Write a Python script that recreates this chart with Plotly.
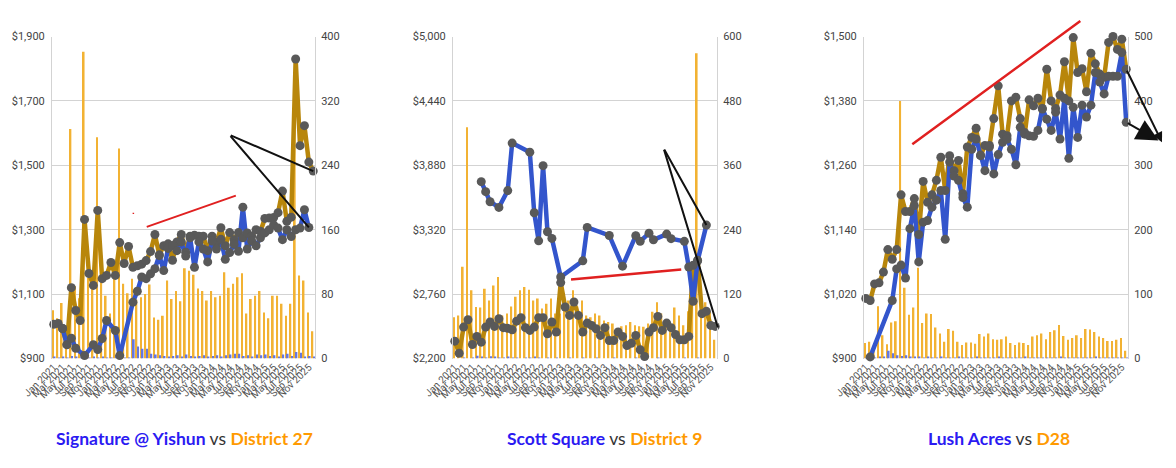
import plotly.graph_objects as go

# ---------------- data ----------------
months_idx = list(range(60))  # Jan 2021 .. Dec 2025
tick_idx = list(range(0, 60, 2))
tick_labels = ["Jan 2021", "Mar 2021", "May 2021", "Jul 2021", "Sep 2021", "Nov 2021",
               "Jan 2022", "Mar 2022", "May 2022", "Jul 2022", "Sep 2022", "Nov 2022",
               "Jan 2023", "Mar 2023", "May 2023", "Jul 2023", "Sep 2023", "Nov 2023",
               "Jan 2024", "Mar 2024", "May 2024", "Jul 2024", "Sep 2024", "Nov 2024",
               "Jan 2025", "Mar 2025", "May 2025", "Jul 2025", "Sep 2025", "Nov 2025"]

# Panel 1: Signature @ Yishun vs District 27
p1_district_price = [1006, 1009, 993, 943, 1120, 1049, 1018, 1332, 1164, 1127,
                     1360, 1148, 1158, 1198, 1158, 1260, 1195, 1248, 1183, 1188,
                     1193, 1204, 1232, 1285, 1222, 1250, 1256, 1205, 1262, 1285,
                     1230, 1280, 1283, 1280, 1280, 1235, 1280, 1260, 1306, 1250,
                     1291, 1269, 1291, 1275, 1290, 1280, 1300, 1295, 1335, 1336,
                     1338, 1353, 1420, 1326, 1339, 1830, 1561, 1623, 1510, 1482]
p1_project_price = [None, None, 993, 943, 963, 932, None, 909, None, 943,
                    928, 962, 1018, None, 987, 909, None, None, 1075, 1109,
                    1153, 1148, 1163, 1179, 1220, 1173, 1242, 1251, 1235, 1262,
                    1218, 1275, 1183, 1262, 1240, 1200, 1265, 1240, 1270, 1208,
                    1229, 1255, 1233, 1370, 1240, 1265, 1250, 1275, 1290, 1300,
                    1315, 1305, 1269, 1300, 1279, 1300, 1305, 1362, 1307, None]
p1_district_vol = [60, 50, 69, 35, 285, 90, 75, 381, 100, 105,
                   275, 97, 78, 56, 105, 261, 93, 81, 99, 73,
                   76, 80, 92, 51, 48, 53, 97, 74, 84, 71,
                   112, 109, 104, 87, 84, 72, 84, 76, 78, 107,
                   88, 93, 101, 106, 56, 74, 78, 84, 57, 50,
                   78, 78, 68, 53, 68, 330, 103, 97, 57, 34]
p1_project_vol = [2, 1, 2, 1, 3, 2, 1, 2, 1, 2,
                  1, 2, 1, 1, 4, 2, 1, 1, 24, 15,
                  12, 12, 6, 5, 4, 3, 2, 3, 4, 2,
                  5, 3, 2, 3, 4, 2, 3, 4, 2, 4,
                  5, 6, 6, 3, 4, 2, 5, 4, 5, 3,
                  4, 2, 5, 6, 3, 8, 7, 2, 3, 2]

# Panel 2: Scott Square vs District 9
p2_district_price = [2351, 2246, 2473, 2537, 2322, 2392, 2342, 2473, 2517, 2479,
                     2546, 2468, 2462, 2450, 2525, 2555, 2468, 2444, 2473, 2555,
                     2555, 2415, 2517, 2430, 2860, 2648, 2575, 2691, 2575, 2430,
                     2508, 2488, 2459, 2401, 2468, 2357, 2357, 2430, 2392, 2313,
                     2333, 2401, 2276, 2217, 2430, 2468, 2566, 2444, 2508, 2468,
                     2409, 2363, 2363, 2392, 3011, 3055, 2590, 2610, 2488, 2479]
p2_project_price = [None, None, None, None, None, None, 3738, 3651, 3563, None,
                    3514, None, 3660, 4073, None, None, None, 3994, 3467, 3223,
                    3877, 3302, 3244, None, 2909, None, None, None, None, 3049,
                    3340, None, None, None, None, 3270, None, None, 3003, None,
                    None, 3268, 3219, None, 3290, 3232, None, None, 3282, 3242,
                    None, None, 3219, 2996, 2698, 3048, None, 3360, None, None]
p2_district_vol = [77, 80, 171, 431, 127, 96, 95, 130, 108, 136,
                   152, 80, 84, 97, 115, 127, 133, 128, 108, 112,
                   93, 102, 112, 84, 84, 115, 108, 127, 97, 108,
                   80, 77, 84, 80, 71, 68, 65, 52, 60, 62,
                   68, 62, 60, 59, 65, 87, 105, 84, 65, 62,
                   95, 80, 62, 88, 112, 569, 108, 105, 87, 35]
p2_project_vol = [0, 0, 1, 0, 1, 5, 3, 1, 4, 2,
                  1, 1, 2, 1, 1, 0, 1, 1, 2, 1,
                  0, 1, 0, 1, 0, 0, 1, 0, 0, 1,
                  0, 0, 1, 0, 0, 0, 1, 0, 0, 0,
                  0, 1, 0, 0, 0, 0, 1, 0, 0, 0,
                  0, 0, 1, 0, 0, 1, 0, 0, 0, 0]

# Panel 3: Lush Acres vs D28
p3_district_price = [1012, 1008, 1039, 1041, 1061, 1103, 1085, 1103, 1205, 1174,
                     1174, 1198, 1131, 1230, 1191, 1205, 1232, 1275, 1213, 1278,
                     1250, 1269, 1207, 1294, 1312, 1329, 1278, 1297, 1294, 1347,
                     1408, 1318, 1315, 1380, 1387, 1347, 1318, 1382, 1371, 1385,
                     1365, 1439, 1380, 1366, 1391, 1453, 1380, 1498, 1433, 1440,
                     1397, 1469, 1449, 1430, 1424, 1489, 1500, 1476, 1495, 1439]
p3_project_price = [None, 903, None, None, None, None, 1008, 1067, 1074, 1050,
                    1142, 1185, 1080, 1154, 1157, 1182, 1195, 1213, 1122, 1266,
                    1240, 1232, 1200, 1182, 1290, 1309, 1279, 1250, 1297, 1244,
                    1280, 1303, 1309, 1290, 1261, 1331, 1321, 1315, 1314, 1325,
                    1366, 1346, 1325, 1359, 1309, 1385, 1273, 1368, 1312, 1372,
                    1350, 1372, 1433, 1415, 1393, 1426, 1426, 1426, 1470, 1340]
p3_district_vol = [24, 26, 15, 81, 36, 22, 56, 58, 400, 110,
                   68, 79, 141, 55, 70, 69, 48, 39, 26, 46,
                   43, 26, 21, 25, 25, 23, 38, 34, 39, 30,
                   29, 30, 34, 24, 21, 25, 24, 21, 34, 36,
                   39, 30, 41, 44, 52, 35, 29, 32, 36, 32,
                   46, 45, 41, 34, 32, 27, 27, 29, 32, 12]
p3_project_vol = [1, 2, 1, 2, 3, 12, 8, 5, 4, 5,
                  2, 3, 2, 1, 2, 1, 1, 2, 1, 1,
                  1, 2, 1, 1, 1, 2, 1, 1, 1, 1,
                  2, 1, 1, 1, 1, 1, 2, 1, 1, 1,
                  1, 1, 1, 1, 2, 1, 1, 1, 1, 1,
                  1, 1, 2, 1, 1, 1, 1, 1, 1, 1]

titles = [("Signature @ Yishun", "District 27"),
          ("Scott Square", "District 9"),
          ("Lush Acres", "D28")]

price_ranges = [(900, 1900, 200), (2200, 5000, 560), (900, 1500, 120)]
vol_ranges = [(0, 400, 80), (0, 600, 120), (0, 500, 100)]

# overlay marks drawn on the picture (data coordinates): (x0, y0, x1, y1)
p1_red = [(20.8, 1307, 41.4, 1406), (18.1, 1344, 18.1, 1353)]
p1_black = [(39.9, 1595, 59, 1482), (39.9, 1595, 58, 1307)]
p2_red = [(26.0, 2886, 51.3, 2974)]
p2_black = [(47.3, 4029, 57, 3360), (47.3, 4029, 59.6, 2470)]
p3_red = [(10.2, 1297, 48.6, 1529)]
p3_arrows = [(59, 1439, 67.1, 1303), (59, 1340, 66.3, 1306)]

# ---------------- figure geometry (page has an 8px body margin) ----------------
OFF = 8
W, H = 1176 - OFF, 468 - OFF
panel_px = [(52, 315), (453, 717), (864, 1128)]   # plot-area edges in screen pixels
top_px, bottom_px = 36.5, 358.5
title_px = [(184, 438), (604, 438), (999, 438)]

x_domains = [((a - OFF) / W, (b - OFF) / W) for a, b in panel_px]
y_domain = ((H - (bottom_px - OFF)) / H, (H - (top_px - OFF)) / H)

DIST_LINE = "#B8860B"
PROJ_LINE = "#3355CC"
DIST_BAR = "#F2B233"
PROJ_BAR = "#6677DD"
MARKER = "#595959"
GRID = "#d3d3d3"

panels = [
    (p1_district_price, p1_project_price, p1_district_vol, p1_project_vol),
    (p2_district_price, p2_project_price, p2_district_vol, p2_project_vol),
    (p3_district_price, p3_project_price, p3_district_vol, p3_project_vol),
]

fig = go.Figure()
layout = {}
annotations = []

for k, (dp, pp, dv, pv) in enumerate(panels):
    xa = "x" if k == 0 else f"x{k + 1}"
    yv = "y" if k == 0 else f"y{2 * k + 1}"   # volume axis (base, right)
    yp = f"y{2 * k + 2}"                       # price axis (overlay, left)
    xkey = "xaxis" if k == 0 else f"xaxis{k + 1}"
    yvkey = "yaxis" if k == 0 else f"yaxis{2 * k + 1}"
    ypkey = f"yaxis{2 * k + 2}"

    fig.add_trace(go.Bar(x=months_idx, y=dv, xaxis=xa, yaxis=yv, marker_color=DIST_BAR,
                         marker_line_width=0, offsetgroup=f"d{k}", showlegend=False))
    fig.add_trace(go.Bar(x=months_idx, y=pv, xaxis=xa, yaxis=yv, marker_color=PROJ_BAR,
                         marker_line_width=0, offsetgroup=f"p{k}", showlegend=False))
    fig.add_trace(go.Scatter(x=months_idx, y=dp, xaxis=xa, yaxis=yp, mode="lines",
                             line=dict(color=DIST_LINE, width=4.5), connectgaps=True,
                             showlegend=False))
    fig.add_trace(go.Scatter(x=months_idx, y=pp, xaxis=xa, yaxis=yp, mode="lines",
                             line=dict(color=PROJ_LINE, width=4.5), connectgaps=True,
                             showlegend=False))
    for series in (dp, pp):
        fig.add_trace(go.Scatter(x=months_idx, y=series, xaxis=xa, yaxis=yp, mode="markers",
                                 marker=dict(color=MARKER, size=9), showlegend=False,
                                 cliponaxis=False))

    pmin, pmax, pstep = price_ranges[k]
    vmin, vmax, vstep = vol_ranges[k]
    layout[xkey] = dict(domain=list(x_domains[k]), anchor=yv, range=[-0.4, 59.4],
                        tickmode="array", tickvals=tick_idx, ticktext=tick_labels,
                        tickangle=-45, tickfont=dict(family="Roboto", size=10, color="#555"),
                        showgrid=False, zeroline=False, showline=False, ticks="",
                        automargin=False)
    layout[yvkey] = dict(domain=list(y_domain), anchor=xa, side="right", range=[vmin, vmax],
                         dtick=vstep, tick0=0, showgrid=True, gridcolor=GRID, gridwidth=1,
                         zeroline=False, showline=True, linecolor=GRID, linewidth=1,
                         ticks="outside", ticklen=3, tickcolor="rgba(0,0,0,0)",
                         tickfont=dict(family="Roboto", size=11, color="#444"),
                         automargin=False)
    layout[ypkey] = dict(overlaying=yv, anchor=xa, side="left", range=[pmin, pmax],
                         dtick=pstep, tick0=pmin, tickprefix="$", tickformat=",d",
                         showgrid=False, zeroline=False, showline=True, linecolor=GRID,
                         linewidth=1, ticks="outside", ticklen=4, tickcolor="rgba(0,0,0,0)",
                         tickfont=dict(family="Roboto", size=11, color="#444"),
                         automargin=False)

    proj, dist = titles[k]
    tx, ty = title_px[k]
    annotations.append(dict(
        xref="paper", yref="paper", x=(tx - OFF) / W, y=(H - (ty - OFF)) / H,
        text=f"<b><span style='color:#2B1AF2'>{proj}</span></b>"
             f"<span style='color:#333'> vs </span>"
             f"<b><span style='color:#FF9A00'>{dist}</span></b>",
        showarrow=False, font=dict(family="Lato", size=17.5), xanchor="center",
        yanchor="middle"))


def seg(xa, ya, s, color, width, head=0, size=1.0):
    x0, y0, x1, y1 = s
    return dict(xref=xa, yref=ya, axref=xa, ayref=ya, x=x1, y=y1, ax=x0, ay=y0, text="",
                showarrow=True, arrowhead=head, arrowsize=size, arrowwidth=width,
                arrowcolor=color, standoff=0, startstandoff=0)


for s in p1_red[:1]:
    annotations.append(seg("x", "y2", s, "#E02020", 2))
for s in p1_red[1:]:
    annotations.append(seg("x", "y2", s, "#E02020", 1.5))
for s in p1_black:
    annotations.append(seg("x", "y2", s, "#111", 2))
for s in p2_red:
    annotations.append(seg("x2", "y4", s, "#E02020", 2.5))
for s in p2_black:
    annotations.append(seg("x2", "y4", s, "#111", 2))
for s in p3_red:
    annotations.append(seg("x3", "y6", s, "#E02020", 2.5))
annotations.append(seg("x3", "y6", p3_arrows[0], "#111", 2, head=2, size=1.0))
annotations.append(seg("x3", "y6", p3_arrows[1], "#111", 2, head=2, size=2.2))

fig.update_layout(
    width=W, height=H, margin=dict(l=0, r=0, t=0, b=0, autoexpand=False),
    paper_bgcolor="white", plot_bgcolor="white",
    barmode="group", bargap=0.22, bargroupgap=0.0,
    showlegend=False, annotations=annotations, **layout)

fig.write_html("out.html")
